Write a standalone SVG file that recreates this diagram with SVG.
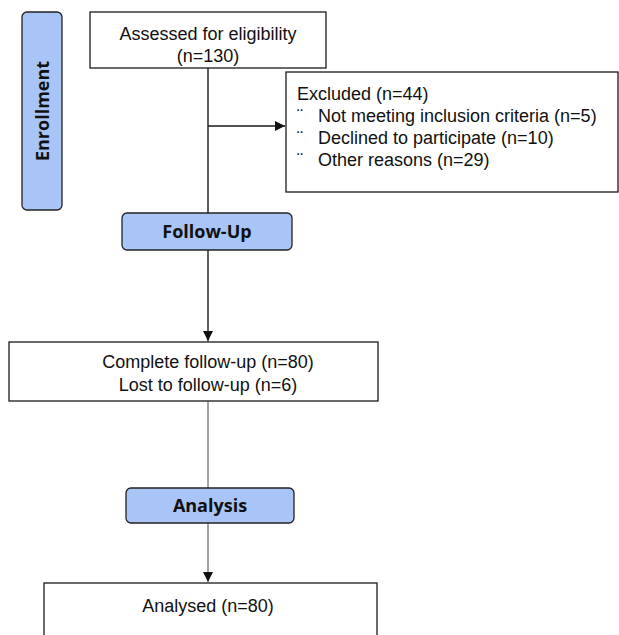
<svg xmlns="http://www.w3.org/2000/svg" width="619" height="635" viewBox="0 0 619 635">
<style>
.box{fill:#fff;stroke:#1a1a1a;stroke-width:1.3}
.stage{fill:#a9c4f7;stroke:#222;stroke-width:1.3}
.t{font-family:"Liberation Sans",Arial,sans-serif;font-size:18px;fill:#111}
.h{font-family:"Open Sans",sans-serif;font-weight:bold;font-size:18px;fill:#111}
.ln{stroke:#1a1a1a;stroke-width:1.4;fill:none}
.ln2{stroke:#333;stroke-width:0.9;fill:none}
</style>
<defs>
<marker id="ah" viewBox="0 0 10 10" refX="10" refY="5" markerWidth="10" markerHeight="10" markerUnits="userSpaceOnUse" orient="auto">
<path d="M0,0 L10,5 L0,10 z" fill="#111"/>
</marker>
</defs>
<g id="connectors">
<line class="ln" x1="208" y1="68" x2="208" y2="213"/>
<line class="ln" x1="208" y1="126" x2="285" y2="126" marker-end="url(#ah)"/>
<line class="ln" x1="208" y1="250" x2="208" y2="341" marker-end="url(#ah)"/>
<line class="ln2" x1="208" y1="401" x2="208" y2="488"/>
<line class="ln2" x1="208" y1="523" x2="208" y2="582" marker-end="url(#ah)"/>
</g>
<g id="enrollment">
<rect class="stage" x="22" y="12" width="40" height="198" rx="5"/>
<text class="h" transform="translate(48.5,111) rotate(-90)" text-anchor="middle">Enrollment</text>
</g>
<g id="assessed">
<rect class="box" x="90" y="12" width="236" height="56"/>
<text class="t" x="208" y="40" text-anchor="middle">Assessed for eligibility</text>
<text class="t" x="208" y="62" text-anchor="middle">(n=130)</text>
</g>
<g id="excluded">
<rect class="box" x="286" y="72" width="332" height="120"/>
<text class="t" x="297" y="100">Excluded (n=44)</text>
<text class="t" x="297" y="122">¨</text>
<text class="t" x="318" y="122">Not meeting inclusion criteria (n=5)</text>
<text class="t" x="297" y="144">¨</text>
<text class="t" x="318" y="144">Declined to participate (n=10)</text>
<text class="t" x="297" y="166">¨</text>
<text class="t" x="318" y="166">Other reasons (n=29)</text>
</g>
<g id="followup">
<rect class="stage" x="122" y="213" width="170" height="37" rx="5"/>
<text class="h" x="207" y="238" text-anchor="middle">Follow-Up</text>
</g>
<g id="complete">
<rect class="box" x="9" y="342" width="369" height="59"/>
<text class="t" x="208" y="368" text-anchor="middle">Complete follow-up (n=80)</text>
<text class="t" x="208" y="391" text-anchor="middle">Lost to follow-up (n=6)</text>
</g>
<g id="analysis">
<rect class="stage" x="126" y="488" width="168" height="35" rx="5"/>
<text class="h" x="210" y="512" text-anchor="middle">Analysis</text>
</g>
<g id="analysed">
<rect class="box" x="44" y="583" width="333" height="70"/>
<text class="t" x="208" y="612" text-anchor="middle">Analysed (n=80)</text>
</g>
</svg>
